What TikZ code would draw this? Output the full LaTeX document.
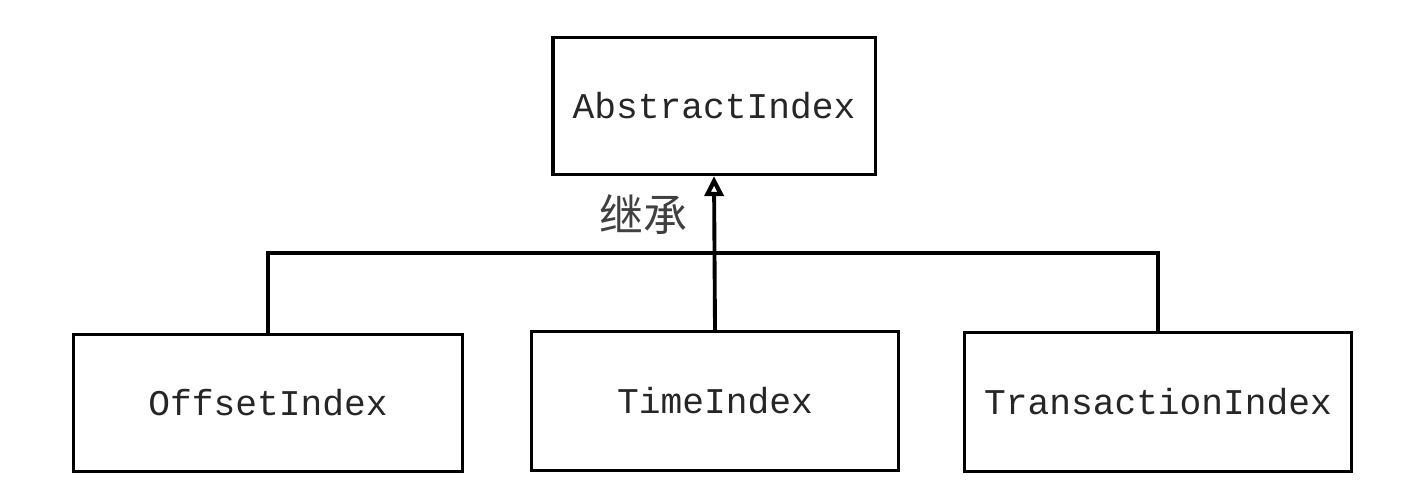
\documentclass[tikz,border=0pt]{standalone}
\usepackage{fontspec}
\setmonofont{Liberation Mono}
\newfontfamily\cjk{Noto Sans CJK SC}
\usetikzlibrary{arrows.meta}

\tikzset{
    cls/.style={draw, rectangle, minimum height=1.37cm, inner sep=0pt, text=black!85,
        font=\ttfamily\fontsize{10.3}{12}\selectfont}
}

\begin{document}
\begin{tikzpicture}[line width=0.9pt, x=0.01cm, y=-0.01cm]
    \useasboundingbox (0, 0) rectangle (1428, 504);

    \node[cls, minimum width=3.22cm] (abs) at (714, 106) {AbstractIndex};
    \node[cls, minimum width=3.88cm] (off) at (268, 403) {OffsetIndex};
    \node[cls, minimum width=3.67cm, minimum height=1.39cm] (time) at (715, 401) {TimeIndex};
    \node[cls, minimum width=3.87cm, minimum height=1.39cm] (trans) at (1158, 402) {TransactionIndex};

    \coordinate (bus) at (715, 253);

    \draw (off.north) -- (off.north |- bus) -- (trans.north |- bus) -- (trans.north); % bus
    \draw[line width=1.1pt, -{Triangle[open, length=0.2cm, width=0.19cm, line width=1.2pt]}] (time.north) -- (abs.south); % inherit

    \node[font=\cjk\fontsize{12.5}{14}\selectfont, text=black!75] (lbl) at (643, 215) {继承};
\end{tikzpicture}
\end{document}
